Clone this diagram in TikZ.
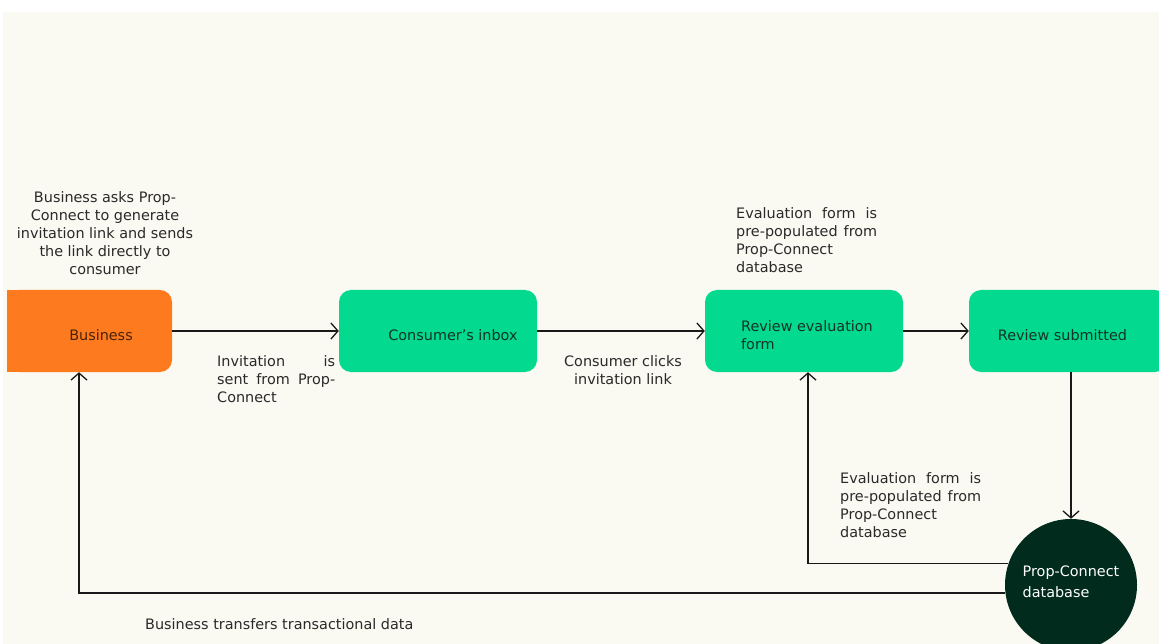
\documentclass[tikz,border=0pt]{standalone}
\usepackage{fontspec}
\setmainfont{DejaVu Sans}
\usetikzlibrary{positioning,arrows.meta}

\definecolor{cream}{HTML}{FAF9F2}
\definecolor{bizorange}{HTML}{FD7B1E}
\definecolor{stepgreen}{HTML}{03D98F}
\definecolor{dbgreen}{HTML}{012B1D}
\definecolor{inktext}{HTML}{2A2A2A}
\definecolor{boxtext}{HTML}{123427}
\definecolor{biztext}{HTML}{4A2208}

\tikzset{
    flowbox/.style={rectangle, fill=stepgreen, rounded corners=12pt, minimum width=198pt, minimum height=82pt, inner sep=0pt, text height=20pt, text depth=0pt, text=boxtext, font=\fontsize{14.4}{18}\selectfont},
    note/.style={inner sep=0pt, text=inktext, font=\fontsize{14.4}{18}\selectfont},
    link/.style={draw=black!90, line width=1.3pt, -{Straight Barb[length=7pt,width=16pt,line width=1.3pt]}}
}

\begin{document}
\begin{tikzpicture}[x=1pt, y=-1pt]
    \useasboundingbox (0,0) rectangle (1159,644);
    \fill[cream] (3,12) rectangle (1159,644);

    % steps
    \node(business) [flowbox, fill=bizorange, minimum width=165pt, text=biztext] at (89.5,331) {\hspace*{23pt}Business};
    \fill[bizorange] (business.north west) rectangle ([xshift=20pt]business.south west);
    \node(inbox) [flowbox] at (438,331) {\hspace*{30pt}Consumer’s inbox};
    \node(evalform) [flowbox, align=left, text height=36pt] at (804,331) {\hspace*{6pt}Review evaluation\\\hspace*{6pt}form};
    \node(submitted) [flowbox] at (1068,331) {\hspace*{-11pt}Review submitted};
    \node(db) [circle, fill=dbgreen, minimum size=132pt, inner sep=0pt, text height=24pt, text depth=0pt, text=white, align=left, font=\fontsize{14.4}{21}\selectfont] at (1071,585) {Prop-Connect\\database};

    % notes
    \node(asknote) [note, align=center] at (105,233) {Business asks Prop-\\Connect to generate\\invitation link and sends\\the link directly to\\consumer};
    \node(sentnote) [note, align=left, anchor=west] at (217,379) {\makebox[118pt][s]{Invitation is}\\\makebox[118pt][s]{sent from Prop-}\\Connect};
    \node(clicknote) [note, align=center] at (623,370) {Consumer clicks\\invitation link};
    \node(prefillnote) [note, align=left, anchor=west] at (736,240) {\makebox[141pt][s]{Evaluation form is}\\\makebox[141pt][s]{pre-populated from}\\Prop-Connect\\database};
    \node(dbnote) [note, align=left, anchor=west] at (840,505) {\makebox[141pt][s]{Evaluation form is}\\\makebox[141pt][s]{pre-populated from}\\Prop-Connect\\database};
    \node(transfernote) [note, anchor=west] at (145,624) {Business transfers transactional data};

    % connectors
    \draw[link] (business.east) -- (inbox.west);
    \draw[link] (inbox.east) -- (evalform.west);
    \draw[link] (evalform.east) -- (submitted.west);
    \draw[link] (submitted.south -| db.north) -- (db.north);
    \draw[link] (db.161) -| ([xshift=4pt]evalform.south);
    \draw[link] (db.187) -| ([xshift=-10.5pt]business.south);
\end{tikzpicture}
\end{document}
